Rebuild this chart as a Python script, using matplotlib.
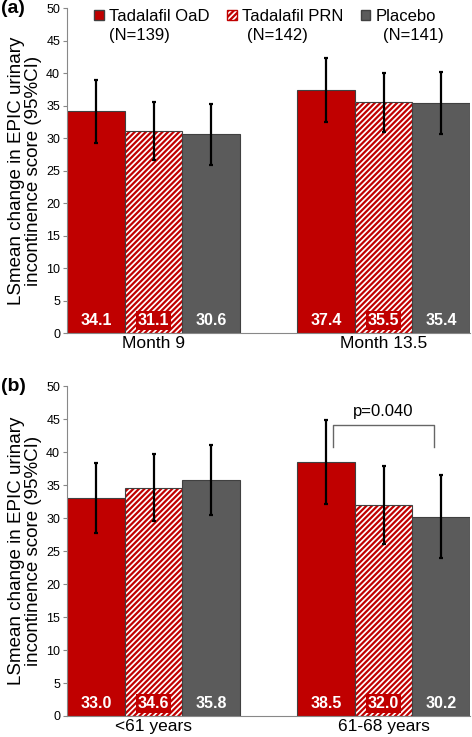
import numpy as np
import matplotlib
matplotlib.use("Agg")
import matplotlib.pyplot as plt
from matplotlib.patches import Patch

plt.rcParams['font.family'] = ['Liberation Sans', 'DejaVu Sans']
plt.rcParams['hatch.linewidth'] = 1.6

# data
groups = ['Tadalafil OaD', 'Tadalafil PRN', 'Placebo']
group_n = ['(N=139)', '(N=142)', '(N=141)']

cats_a = ['Month 9', 'Month 13.5']
mean_a = [[34.1, 37.4], [31.1, 35.5], [30.6, 35.4]]
low_a = [[29.3, 32.5], [26.7, 31.0], [25.9, 30.6]]
high_a = [[38.9, 42.3], [35.5, 40.0], [35.3, 40.2]]

cats_b = ['<61 years', '61-68 years']
mean_b = [[33.0, 38.5], [34.6, 32.0], [35.8, 30.2]]
low_b = [[27.7, 32.1], [29.5, 26.0], [30.4, 23.9]]
high_b = [[38.3, 44.8], [39.7, 37.9], [41.1, 36.5]]

red = '#c00000'
grey = '#5b5b5b'
edge = '#404040'
width = 0.25


def draw_panel(ax, cats, means, lows, highs, tag):
    x = np.arange(len(cats))
    for i in range(3):
        xs = x + (i - 1) * width
        m = np.array(means[i])
        err = [m - np.array(lows[i]), np.array(highs[i]) - m]
        if i == 0:
            ax.bar(xs, m, width, color=red, edgecolor=edge, linewidth=0.8, zorder=2)
        elif i == 1:
            ax.bar(xs, m, width, color='white', hatch='//////', edgecolor=red, linewidth=0, zorder=2)
            ax.bar(xs, m, width, fill=False, edgecolor=edge, linewidth=0.8, zorder=2)
        else:
            ax.bar(xs, m, width, color=grey, edgecolor=edge, linewidth=0.8, zorder=2)
        ax.errorbar(xs, m, yerr=err, fmt='none', ecolor='black', elinewidth=1.6,
                    capsize=1.5, capthick=1.6, zorder=3)
        for xv, v in zip(xs, m):
            box = dict(boxstyle='square,pad=0.12', fc=red, ec='none') if i == 1 else None
            ax.text(xv, 1.9, f'{v:.1f}', ha='center', va='center', color='white',
                    fontsize=11.5, fontweight='bold', bbox=box, zorder=4)
    ax.set_xlim(-0.376, len(cats) - 1 + 0.376)
    ax.set_ylim(0, 50)
    ax.set_yticks(range(0, 51, 5))
    ax.set_xticks(x)
    ax.set_xticklabels(cats, fontsize=12.5)
    ax.tick_params(axis='x', length=0, pad=2)
    ax.tick_params(axis='y', labelsize=9, length=3, color='#888888', pad=2)
    for s in ['top', 'right']:
        ax.spines[s].set_visible(False)
    for s in ['left', 'bottom']:
        ax.spines[s].set_color('#888888')
    ax.set_ylabel('LSmean change in EPIC urinary\nincontinence score (95%CI)',
                  fontsize=13.5, labelpad=3, linespacing=1.0)
    ax.text(-0.165, 1.0, tag, transform=ax.transAxes, fontsize=14,
            fontweight='bold', ha='left', va='center')


fig = plt.figure(figsize=(4.72, 7.37), dpi=100)
ax1 = fig.add_axes([0.142, 0.548, 0.854, 0.441])
ax2 = fig.add_axes([0.142, 0.0285, 0.854, 0.4475])

draw_panel(ax1, cats_a, mean_a, low_a, high_a, '(a)')
draw_panel(ax2, cats_b, mean_b, low_b, high_b, '(b)')

# legend in panel (a)
handles = [Patch(facecolor=red, edgecolor=edge),
           Patch(facecolor='white', hatch='//////', edgecolor=red),
           Patch(facecolor=grey, edgecolor=edge)]
ax1.legend(handles, groups, ncol=3, loc='center left', bbox_to_anchor=(0.068, 0.975),
           frameon=False, fontsize=12, handlelength=0.55, handleheight=0.55,
           handletextpad=0.3, columnspacing=1.1, borderaxespad=0, borderpad=0)
for xpos, lab in zip([0.104, 0.446, 0.784], group_n):
    ax1.text(xpos, 0.917, lab, transform=ax1.transAxes, fontsize=12, ha='left', va='center')

# significance bracket in panel (b)
ax2.plot([0.78, 0.78, 1.22, 1.22], [40.8, 44.1, 44.1, 40.8], color='#666666', lw=1.0, zorder=3)
ax2.text(1.0, 46.2, 'p=0.040', ha='center', va='center', fontsize=12)

fig.savefig('out.png', dpi=100)
